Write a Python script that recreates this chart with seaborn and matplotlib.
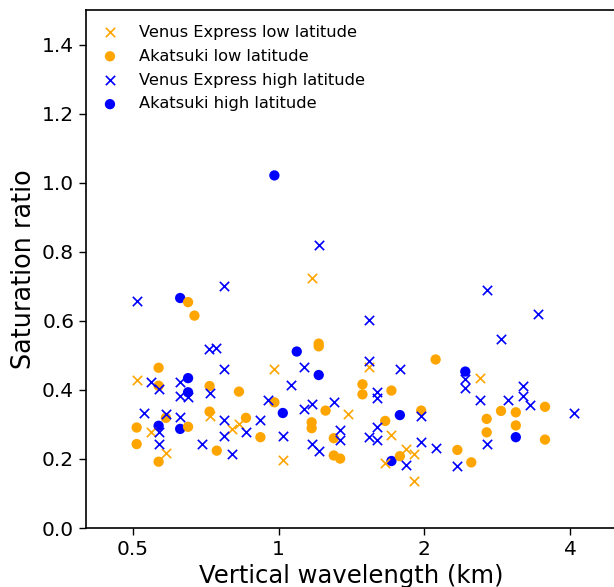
import matplotlib
matplotlib.use("Agg")
import matplotlib.pyplot as plt
import matplotlib.ticker as mticker
import seaborn as sns

# Venus Express low latitude (orange x)
ve_low_x = [1.17, 0.98, 1.54, 2.60, 0.509, 0.72, 0.545, 0.80, 0.828, 0.585, 1.39, 1.71, 1.02, 1.83, 1.90, 1.66, 1.90]
ve_low_y = [0.723, 0.459, 0.465, 0.435, 0.429, 0.325, 0.279, 0.286, 0.300, 0.216, 0.329, 0.268, 0.197, 0.228, 0.213, 0.189, 0.136]

# Akatsuki low latitude (orange circles)
ak_low_x = [0.65, 0.67, 0.565, 0.565, 0.72, 0.828, 0.585, 0.72, 0.856, 0.509, 0.65, 0.917, 0.509, 0.745, 0.565,
            0.98, 1.21, 1.21, 1.49, 1.49, 1.71, 1.25, 1.17, 1.17, 1.97, 1.66, 1.30, 1.30, 1.34, 1.78,
            2.11, 2.88, 3.09, 2.69, 3.09, 2.69, 3.55, 3.55, 2.34, 2.50]
ak_low_y = [0.654, 0.615, 0.464, 0.412, 0.411, 0.395, 0.319, 0.337, 0.319, 0.291, 0.293, 0.263, 0.243, 0.224, 0.192,
            0.364, 0.534, 0.526, 0.416, 0.387, 0.398, 0.340, 0.306, 0.289, 0.340, 0.310, 0.260, 0.210, 0.201, 0.208,
            0.488, 0.339, 0.335, 0.316, 0.297, 0.277, 0.351, 0.256, 0.226, 0.190]

# Venus Express high latitude (blue x)
ve_high_x = [0.509, 0.771, 1.21, 1.54, 2.69, 3.43, 2.88, 0.719, 0.744, 0.771, 0.545, 0.565, 0.626, 0.626, 0.65,
             0.72, 0.95, 0.527, 0.585, 0.626, 0.565, 0.771, 0.771, 0.856, 0.917, 0.695, 0.565, 0.80, 1.13, 1.54,
             1.78, 1.06, 1.60, 1.60, 1.13, 1.17, 1.30, 1.97, 1.02, 1.60, 1.54, 1.60, 1.34, 1.34, 1.17,
             1.21, 1.97, 2.11, 1.83, 2.43, 2.43, 2.60, 3.20, 3.20, 2.98, 3.31, 4.07, 2.69, 2.34]
ve_high_y = [0.657, 0.700, 0.819, 0.601, 0.690, 0.620, 0.548, 0.518, 0.522, 0.459, 0.423, 0.402, 0.424, 0.383, 0.380,
             0.390, 0.370, 0.332, 0.329, 0.322, 0.279, 0.313, 0.266, 0.279, 0.312, 0.244, 0.244, 0.213, 0.466, 0.485,
             0.460, 0.414, 0.393, 0.377, 0.345, 0.358, 0.365, 0.325, 0.266, 0.292, 0.263, 0.256, 0.285, 0.255, 0.243,
             0.224, 0.249, 0.233, 0.183, 0.432, 0.405, 0.372, 0.411, 0.383, 0.370, 0.356, 0.332, 0.243, 0.179]

# Akatsuki high latitude (blue circles)
ak_high_x = [0.98, 0.626, 0.65, 0.65, 0.565, 0.626, 1.09, 1.21, 1.02, 1.78, 1.71, 2.43, 3.09]
ak_high_y = [1.021, 0.666, 0.434, 0.393, 0.296, 0.287, 0.511, 0.443, 0.333, 0.327, 0.194, 0.453, 0.263]

x_ticks = [0.5, 1, 2, 4]
x_tick_labels = ["0.5", "1", "2", "4"]
y_ticks = [0.0, 0.2, 0.4, 0.6, 0.8, 1.0, 1.2, 1.4]

sns.set_style("ticks")
plt.rcParams["font.family"] = ["DejaVu Sans"]
plt.rcParams["text.color"] = "black"
plt.rcParams["axes.labelcolor"] = "black"

fig = plt.figure(figsize=(6.14, 5.87), dpi=100)
ax = fig.add_axes([86 / 614, 59 / 587, 531 / 614, 518 / 587])

orange = "#FFA500"
blue = "#0000FF"

sns.scatterplot(x=ak_high_x, y=ak_high_y, ax=ax, color=blue, marker="o", s=55,
                edgecolor="none", linewidth=0, label="Akatsuki high latitude", zorder=3)
sns.scatterplot(x=ak_low_x, y=ak_low_y, ax=ax, color=orange, marker="o", s=55,
                edgecolor="none", linewidth=0, label="Akatsuki low latitude", zorder=3)
sns.scatterplot(x=ve_low_x, y=ve_low_y, ax=ax, color=orange, marker="x", s=45,
                linewidth=1.2, label="Venus Express low latitude", zorder=4)
sns.scatterplot(x=ve_high_x, y=ve_high_y, ax=ax, color=blue, marker="x", s=45,
                linewidth=1.2, label="Venus Express high latitude", zorder=4)

ax.set_xscale("log")
ax.set_xlim(0.4, 5)
ax.set_ylim(0, 1.5)
ax.set_xticks(x_ticks)
ax.set_xticklabels(x_tick_labels)
ax.xaxis.set_minor_locator(mticker.NullLocator())
ax.set_yticks(y_ticks)
ax.set_yticklabels([f"{v:.1f}" for v in y_ticks])
ax.tick_params(axis="both", labelsize=14.5, colors="black", direction="out", length=5, width=1)
for sp in ax.spines.values():
    sp.set_color("black")
    sp.set_linewidth(1.2)

ax.set_xlabel("Vertical wavelength (km)", fontsize=17.5, color="black")
ax.set_ylabel("Saturation ratio", fontsize=18.4, color="black")

handles, labels = ax.get_legend_handles_labels()
order = ["Venus Express low latitude", "Akatsuki low latitude",
         "Venus Express high latitude", "Akatsuki high latitude"]
hmap = dict(zip(labels, handles))
leg = ax.legend([hmap[k] for k in order], order, loc="upper left", frameon=False,
                fontsize=11.7, bbox_to_anchor=(-0.013, 1.0), labelspacing=0.55)
for t in leg.get_texts():
    t.set_color("black")

fig.savefig("out.png", dpi=100)
